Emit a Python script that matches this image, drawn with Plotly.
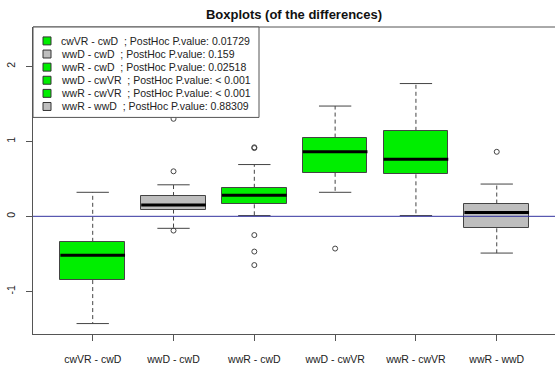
import plotly.graph_objects as go

# ---- data ----
categories = ["cwVR - cwD", "wwD - cwD", "wwR - cwD", "wwD - cwVR", "wwR - cwVR", "wwR - wwD"]
pvalues = ["0.01729", "0.159", "0.02518", "&lt; 0.001", "&lt; 0.001", "0.88309"]
lower_whisker = [-1.43, -0.16, 0.01, 0.32, 0.01, -0.49]
q1 = [-0.85, 0.09, 0.16, 0.58, 0.56, -0.16]
median = [-0.52, 0.15, 0.28, 0.86, 0.76, 0.05]
q3 = [-0.34, 0.27, 0.38, 1.05, 1.14, 0.17]
upper_whisker = [0.32, 0.42, 0.69, 1.47, 1.77, 0.43]
outliers = [[], [1.30, 0.60, -0.19], [0.91, 0.92, -0.25, -0.47, -0.65], [-0.43], [], [0.86]]
colors = ["#00EE00", "#BEBEBE", "#00EE00", "#00EE00", "#00EE00", "#BEBEBE"]

FONT = "Liberation Sans, Arial, sans-serif"
EDGE = "#444444"
pos = list(range(1, len(categories) + 1))
half = 0.4      # half box width
cap = 0.2       # half staple width

fig = go.Figure()

# boxes
fig.add_trace(go.Bar(
    x=pos, base=q1, y=[b - a for a, b in zip(q1, q3)], width=2 * half,
    marker=dict(color=colors, line=dict(color=EDGE, width=1)),
    showlegend=False, hoverinfo="skip"))

# whiskers (dashed)
wx, wy = [], []
for p, lo, a, b, hi in zip(pos, lower_whisker, q1, q3, upper_whisker):
    wx += [p, p, None, p, p, None]
    wy += [b, hi, None, a, lo, None]
fig.add_trace(go.Scatter(x=wx, y=wy, mode="lines",
                         line=dict(color=EDGE, width=1, dash="4px,3px"),
                         showlegend=False, hoverinfo="skip"))

# staples
sx, sy = [], []
for p, lo, hi in zip(pos, lower_whisker, upper_whisker):
    sx += [p - cap, p + cap, None, p - cap, p + cap, None]
    sy += [hi, hi, None, lo, lo, None]
fig.add_trace(go.Scatter(x=sx, y=sy, mode="lines",
                         line=dict(color=EDGE, width=1),
                         showlegend=False, hoverinfo="skip"))

# medians
mx, my = [], []
for p, m in zip(pos, median):
    mx += [p - half, p + half, None]
    my += [m, m, None]
fig.add_trace(go.Scatter(x=mx, y=my, mode="lines",
                         line=dict(color="#000000", width=3),
                         showlegend=False, hoverinfo="skip"))

# outliers
ox, oy = [], []
for p, outs in zip(pos, outliers):
    for v in outs:
        ox.append(p)
        oy.append(v)
fig.add_trace(go.Scatter(x=ox, y=oy, mode="markers",
                         marker=dict(symbol="circle-open", size=5, color=EDGE, line=dict(width=1)),
                         showlegend=False, hoverinfo="skip"))

# reference line at 0
fig.add_hline(y=0, line=dict(color="#33339f", width=1), layer="above")

# top border of plot box
fig.add_shape(type="line", xref="paper", yref="paper", x0=0, x1=1, y0=1, y1=1,
              line=dict(color="#555555", width=1), layer="above")

# ---- legend drawn as box + swatches + text ----
L, T, W, H = 33, 27, 522, 309  # plot area in px


def px_x(v):
    return (v - L) / W


def px_y(v):
    return 1 - (v - T) / H


fig.add_shape(type="rect", xref="paper", yref="paper",
              x0=px_x(33), x1=px_x(259), y0=px_y(118), y1=px_y(27),
              fillcolor="white", line=dict(color="#555555", width=1), layer="above")
row0, step = 41, 13.2
for k, (cat, pv, col) in enumerate(zip(categories, pvalues, colors)):
    cy = row0 + step * k
    fig.add_shape(type="rect", xref="paper", yref="paper",
                  x0=px_x(43), x1=px_x(51), y0=px_y(cy + 4), y1=px_y(cy - 4),
                  fillcolor=col, line=dict(color="#333333", width=1), layer="above")
    fig.add_annotation(xref="paper", yref="paper", x=px_x(59), y=px_y(cy),
                       xanchor="left", yanchor="middle", showarrow=False,
                       text=f"{cat}&nbsp; ; PostHoc P.value: {pv}",
                       font=dict(family=FONT, size=10.5, color="#222222"))

fig.update_layout(
    width=555, height=365,
    margin=dict(l=L, r=0, t=T, b=365 - T - H),
    paper_bgcolor="white", plot_bgcolor="white",
    title=dict(text="<b>Boxplots (of the differences)</b>", x=0.5, xref="paper",
               y=1 - 14 / 365, yanchor="middle",
               font=dict(family=FONT, size=13, color="#111111")),
    font=dict(family=FONT, size=10.5, color="#222222"),
    bargap=0,
    xaxis=dict(range=[0.261, 6.721], tickmode="array", tickvals=pos, ticktext=categories,
               showgrid=False, zeroline=False, showline=True, linecolor="#555555", linewidth=1,
               ticks="outside", ticklen=6, tickcolor="#555555", ticklabelstandoff=9),
    yaxis=dict(range=[-1.569, 2.524], tickvals=[-1, 0, 1, 2], ticktext=["-1", "0", "1", "2"],
               showgrid=False, zeroline=False, showline=True, linecolor="#555555", linewidth=1,
               ticks="outside", ticklen=6, tickcolor="#555555", tickangle=-90,
               ticklabelstandoff=7),
)

fig.write_html("out.html")
